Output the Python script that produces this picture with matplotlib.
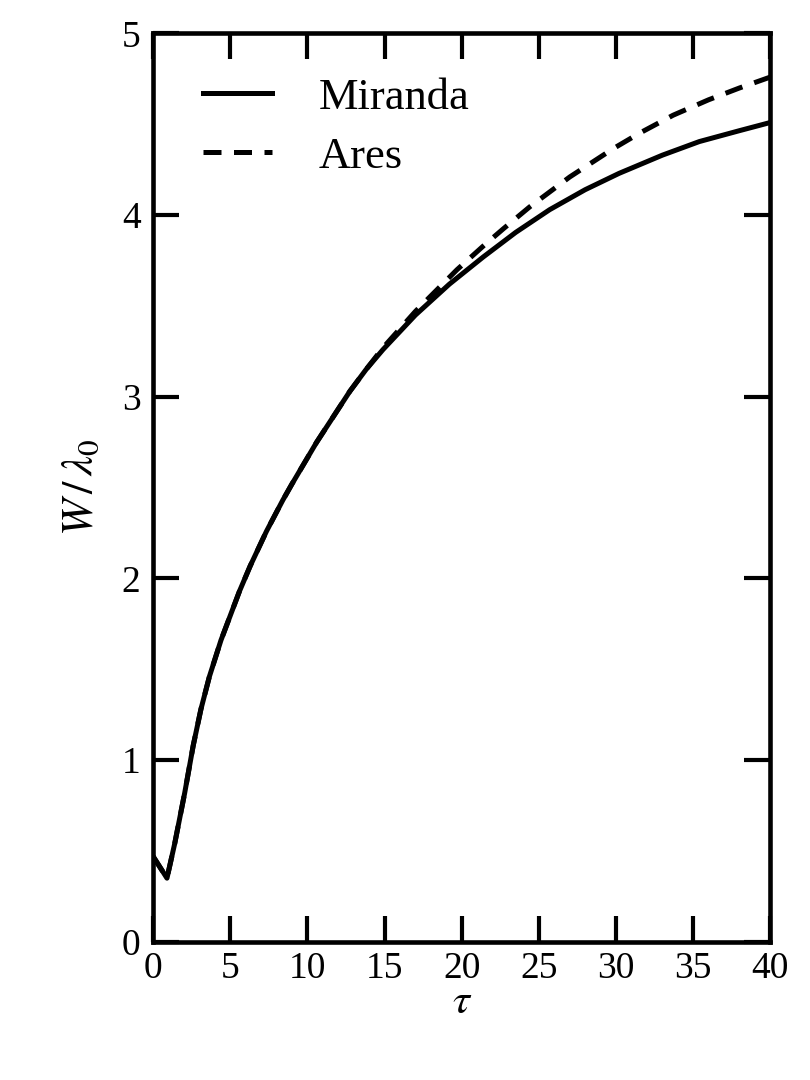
import matplotlib
matplotlib.use("Agg")
import matplotlib.pyplot as plt

plt.rcParams["font.family"] = ["Liberation Serif", "DejaVu Serif"]
plt.rcParams["mathtext.fontset"] = "stix"

# data
tau_miranda = [0, 0.9, 1.4, 2.05, 2.6, 3.1, 3.65, 4.4, 5.6, 6.3, 7.35, 8.4,
               9.0, 10.6, 12.75, 13.8, 14.9, 17.0, 19.2, 21.4, 23.5, 25.7,
               28, 30.2, 33, 35.4, 38, 40]
w_miranda = [0.47, 0.35, 0.54, 0.82, 1.08, 1.28, 1.46, 1.66, 1.93, 2.07,
             2.26, 2.43, 2.52, 2.75, 3.03, 3.15, 3.26, 3.45, 3.62, 3.77,
             3.905, 4.03, 4.14, 4.23, 4.33, 4.405, 4.465, 4.51]

tau_ares = [0, 0.9, 1.4, 2.05, 2.6, 3.1, 3.65, 4.4, 5.6, 6.3, 7.35, 8.4,
            9.0, 10.6, 12.75, 13.8, 14.9, 17.0, 19.7, 21.4, 22.7, 24.4,
            27, 29.8, 31.5, 33.7, 36, 38, 40]
w_ares = [0.47, 0.35, 0.54, 0.82, 1.08, 1.28, 1.46, 1.66, 1.93, 2.07,
          2.26, 2.43, 2.52, 2.75, 3.03, 3.15, 3.27, 3.47, 3.70, 3.83,
          3.925, 4.045, 4.21, 4.365, 4.45, 4.55, 4.635, 4.70, 4.76]

labels = ["Miranda", "Ares"]

fig = plt.figure(figsize=(8.1, 10.8), dpi=100)
ax = fig.add_axes([0.189, 0.128, 0.762, 0.841])

ax.plot(tau_ares, w_ares, color="black", lw=3.6, ls=(0, (3.6, 2.5)),
        label=labels[1], solid_joinstyle="round")
ax.plot(tau_miranda, w_miranda, color="black", lw=3.6, label=labels[0],
        solid_joinstyle="round")

ax.set_xlim(0, 40)
ax.set_ylim(0, 5)
ax.set_xticks(range(0, 41, 5))
ax.set_yticks(range(0, 6))

for s in ax.spines.values():
    s.set_linewidth(3.3)
ax.tick_params(direction="in", length=19, width=3.0, top=True, right=True,
               labelsize=27, pad=7)
ax.tick_params(axis="y", pad=9)

ax.set_xlabel(r"$\tau$", fontsize=31, labelpad=-2)
ax.set_ylabel(r"$W\,/\,\lambda_0$", fontsize=32, labelpad=14)

h, l = ax.get_legend_handles_labels()
leg = ax.legend(h[::-1], l[::-1], loc="upper left", bbox_to_anchor=(0.06, 0.966),
                frameon=False, fontsize=32, handlelength=1.55, handletextpad=1.05,
                labelspacing=0.42, borderpad=0.3, borderaxespad=0)

fig.savefig("out.png", dpi=100)
